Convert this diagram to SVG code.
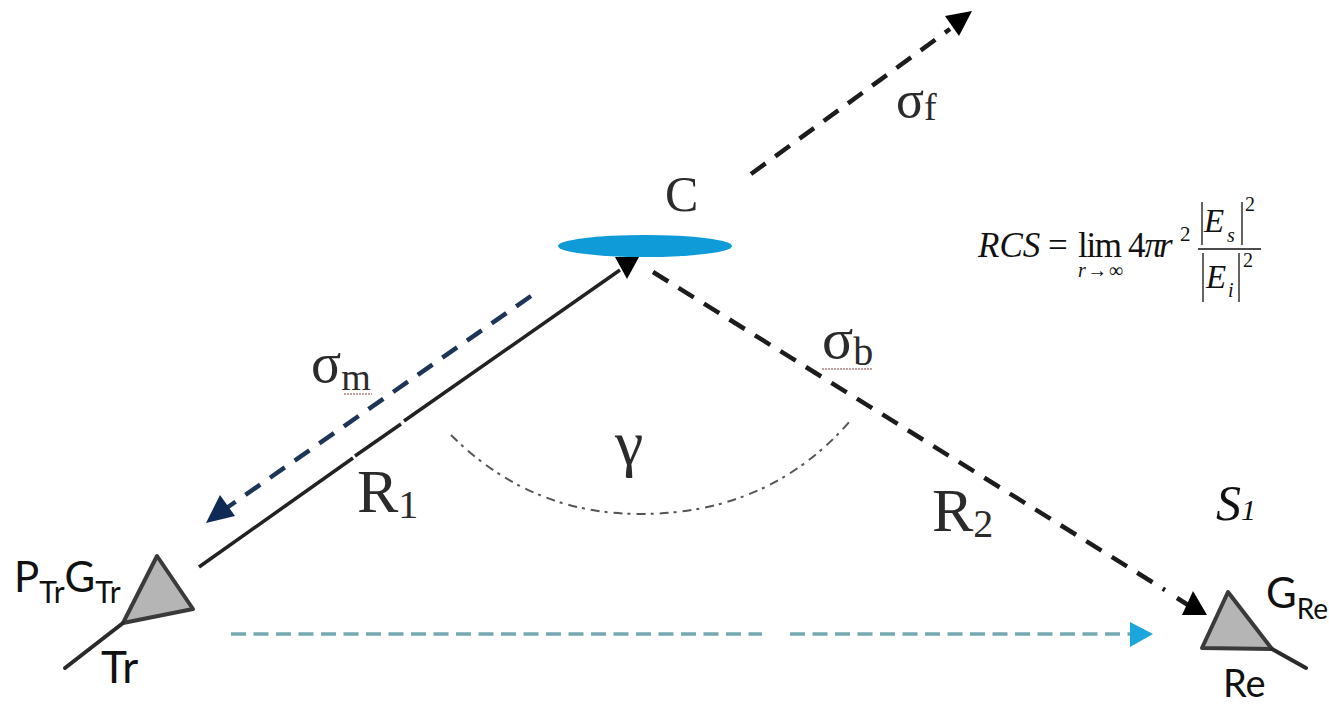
<svg xmlns="http://www.w3.org/2000/svg" width="1329" height="706" viewBox="0 0 1329 706">
<style>
.lb{font-family:"Liberation Serif",serif;fill:#2b2b2b;}
.sans{font-family:Lato,"Open Sans",sans-serif;fill:#111;}
.m{font-family:"Liberation Serif",serif;fill:#111;}
.i{font-style:italic;}
.ln{fill:none;}
.bk{stroke:#1c1c1c;stroke-width:4.5;stroke-dasharray:18 12;}
.ant{fill:#b5b5b5;stroke:#3a3a3a;stroke-width:4;stroke-linejoin:round;}
.st{fill:none;stroke:#2a2a2a;stroke-width:4;stroke-linecap:round;}
.bar{stroke:#111;stroke-width:1.3;}
.sq{fill:none;stroke:#b08080;stroke-width:1.5;stroke-dasharray:2 1;}
</style>
<rect width="1329" height="706" fill="#ffffff"/>
<g id="connectors">
<path class="ln" d="M199,567 L353,458 M355,456 L401,424 M404,421 L620,270" stroke="#222" stroke-width="3.5"/>
<polygon points="615,257 639,257 627,279" fill="#000"/>
<line class="ln" x1="531" y1="296" x2="228" y2="507" stroke="#1f3557" stroke-width="4.5" stroke-dasharray="18 12"/>
<polygon points="206,523 220,495 235,516" fill="#0f2a55"/>
<line class="ln bk" x1="653" y1="272" x2="1165" y2="590"/>
<line class="ln" x1="1177" y1="598" x2="1196" y2="610" stroke="#1c1c1c" stroke-width="4.5"/>
<polygon points="1207,615 1182,615 1193,591" fill="#000"/>
<line class="ln bk" x1="751" y1="174" x2="950" y2="29"/>
<polygon points="972,11 959,36 945,16" fill="#000"/>
<path class="ln" d="M231,634 H762 M790,634 H1132" stroke="#76a8b2" stroke-width="3.5" stroke-dasharray="15 7.5"/>
<polygon points="1153,634 1130,622 1130,647" fill="#1ba6dc"/>
<path class="ln" d="M451,435 Q530,514 640,514 Q770,514 851,420" stroke="#555" stroke-width="2" stroke-dasharray="9 5 3 6"/>
</g>
<g id="node-c">
<ellipse cx="645" cy="246" rx="87" ry="11" fill="#0f9bd7"/>
<text class="lb" x="665" y="211" font-size="50">C</text>
</g>
<g id="node-tr">
<polygon class="ant" points="157,556 193,609 123,623"/>
<line class="st" x1="123" y1="623" x2="65" y2="668"/>
<text class="sans" x="14" y="592" font-size="42">P<tspan font-size="30" dy="11">Tr</tspan><tspan dy="-11">G</tspan><tspan font-size="30" dy="11">Tr</tspan></text>
<text class="sans" x="101" y="683" font-size="44">Tr</text>
</g>
<g id="node-re">
<polygon class="ant" points="1228,592 1272,649 1202,648"/>
<line class="st" x1="1272" y1="649" x2="1306" y2="668"/>
<text class="sans" x="1266" y="608" font-size="42">G<tspan font-size="28" dy="11">Re</tspan></text>
<text class="sans" x="1223" y="697" font-size="38">Re</text>
<text class="m i" x="1216" y="520" font-size="50" fill="#444">S<tspan font-size="30">1</tspan></text>
</g>
<g id="labels">
<text class="lb" x="896" y="117" font-size="52">σ<tspan font-size="38" dy="3">f</tspan></text>
<text class="lb" x="311" y="382" font-size="56">σ<tspan font-size="38" dy="8">m</tspan></text>
<path class="sq" d="M344,394 H372"/>
<text class="lb" x="822" y="358" font-size="58">σ<tspan font-size="40" dy="7">b</tspan></text>
<path class="sq" d="M822,369 H872"/>
<text class="lb" x="357" y="512" font-size="62">R<tspan font-size="40" dy="6">1</tspan></text>
<text class="lb" x="932" y="531" font-size="62">R<tspan font-size="40" dy="6">2</tspan></text>
<text class="lb" x="615" y="464" font-size="64">γ</text>
</g>
<g id="formula">
<text class="m i" x="978" y="257" font-size="35">RCS</text>
<text class="m" x="1048" y="257" font-size="35">=</text>
<text class="m" x="1078" y="257" font-size="35" textLength="44">lim</text>
<text class="m" x="1078" y="277" font-size="20" textLength="45"><tspan class="i">r</tspan>→∞</text>
<text class="m" x="1128" y="257" font-size="35">4<tspan class="i" dx="-1">π</tspan><tspan class="i" dx="-3">r</tspan></text>
<text class="m" x="1180" y="241" font-size="21">2</text>
<line class="bar" x1="1198" y1="249" x2="1261" y2="249"/>
<line class="bar" x1="1202" y1="202" x2="1202" y2="245"/>
<line class="bar" x1="1242" y1="202" x2="1242" y2="245"/>
<text class="m i" x="1204" y="232" font-size="33">E</text>
<text class="m i" x="1227" y="242" font-size="20">s</text>
<text class="m" x="1245" y="211" font-size="20">2</text>
<line class="bar" x1="1203" y1="253" x2="1203" y2="302"/>
<line class="bar" x1="1239" y1="253" x2="1239" y2="302"/>
<text class="m i" x="1206" y="288" font-size="33">E</text>
<text class="m i" x="1228" y="297" font-size="20">i</text>
<text class="m" x="1243" y="267" font-size="20">2</text>
</g>
</svg>
